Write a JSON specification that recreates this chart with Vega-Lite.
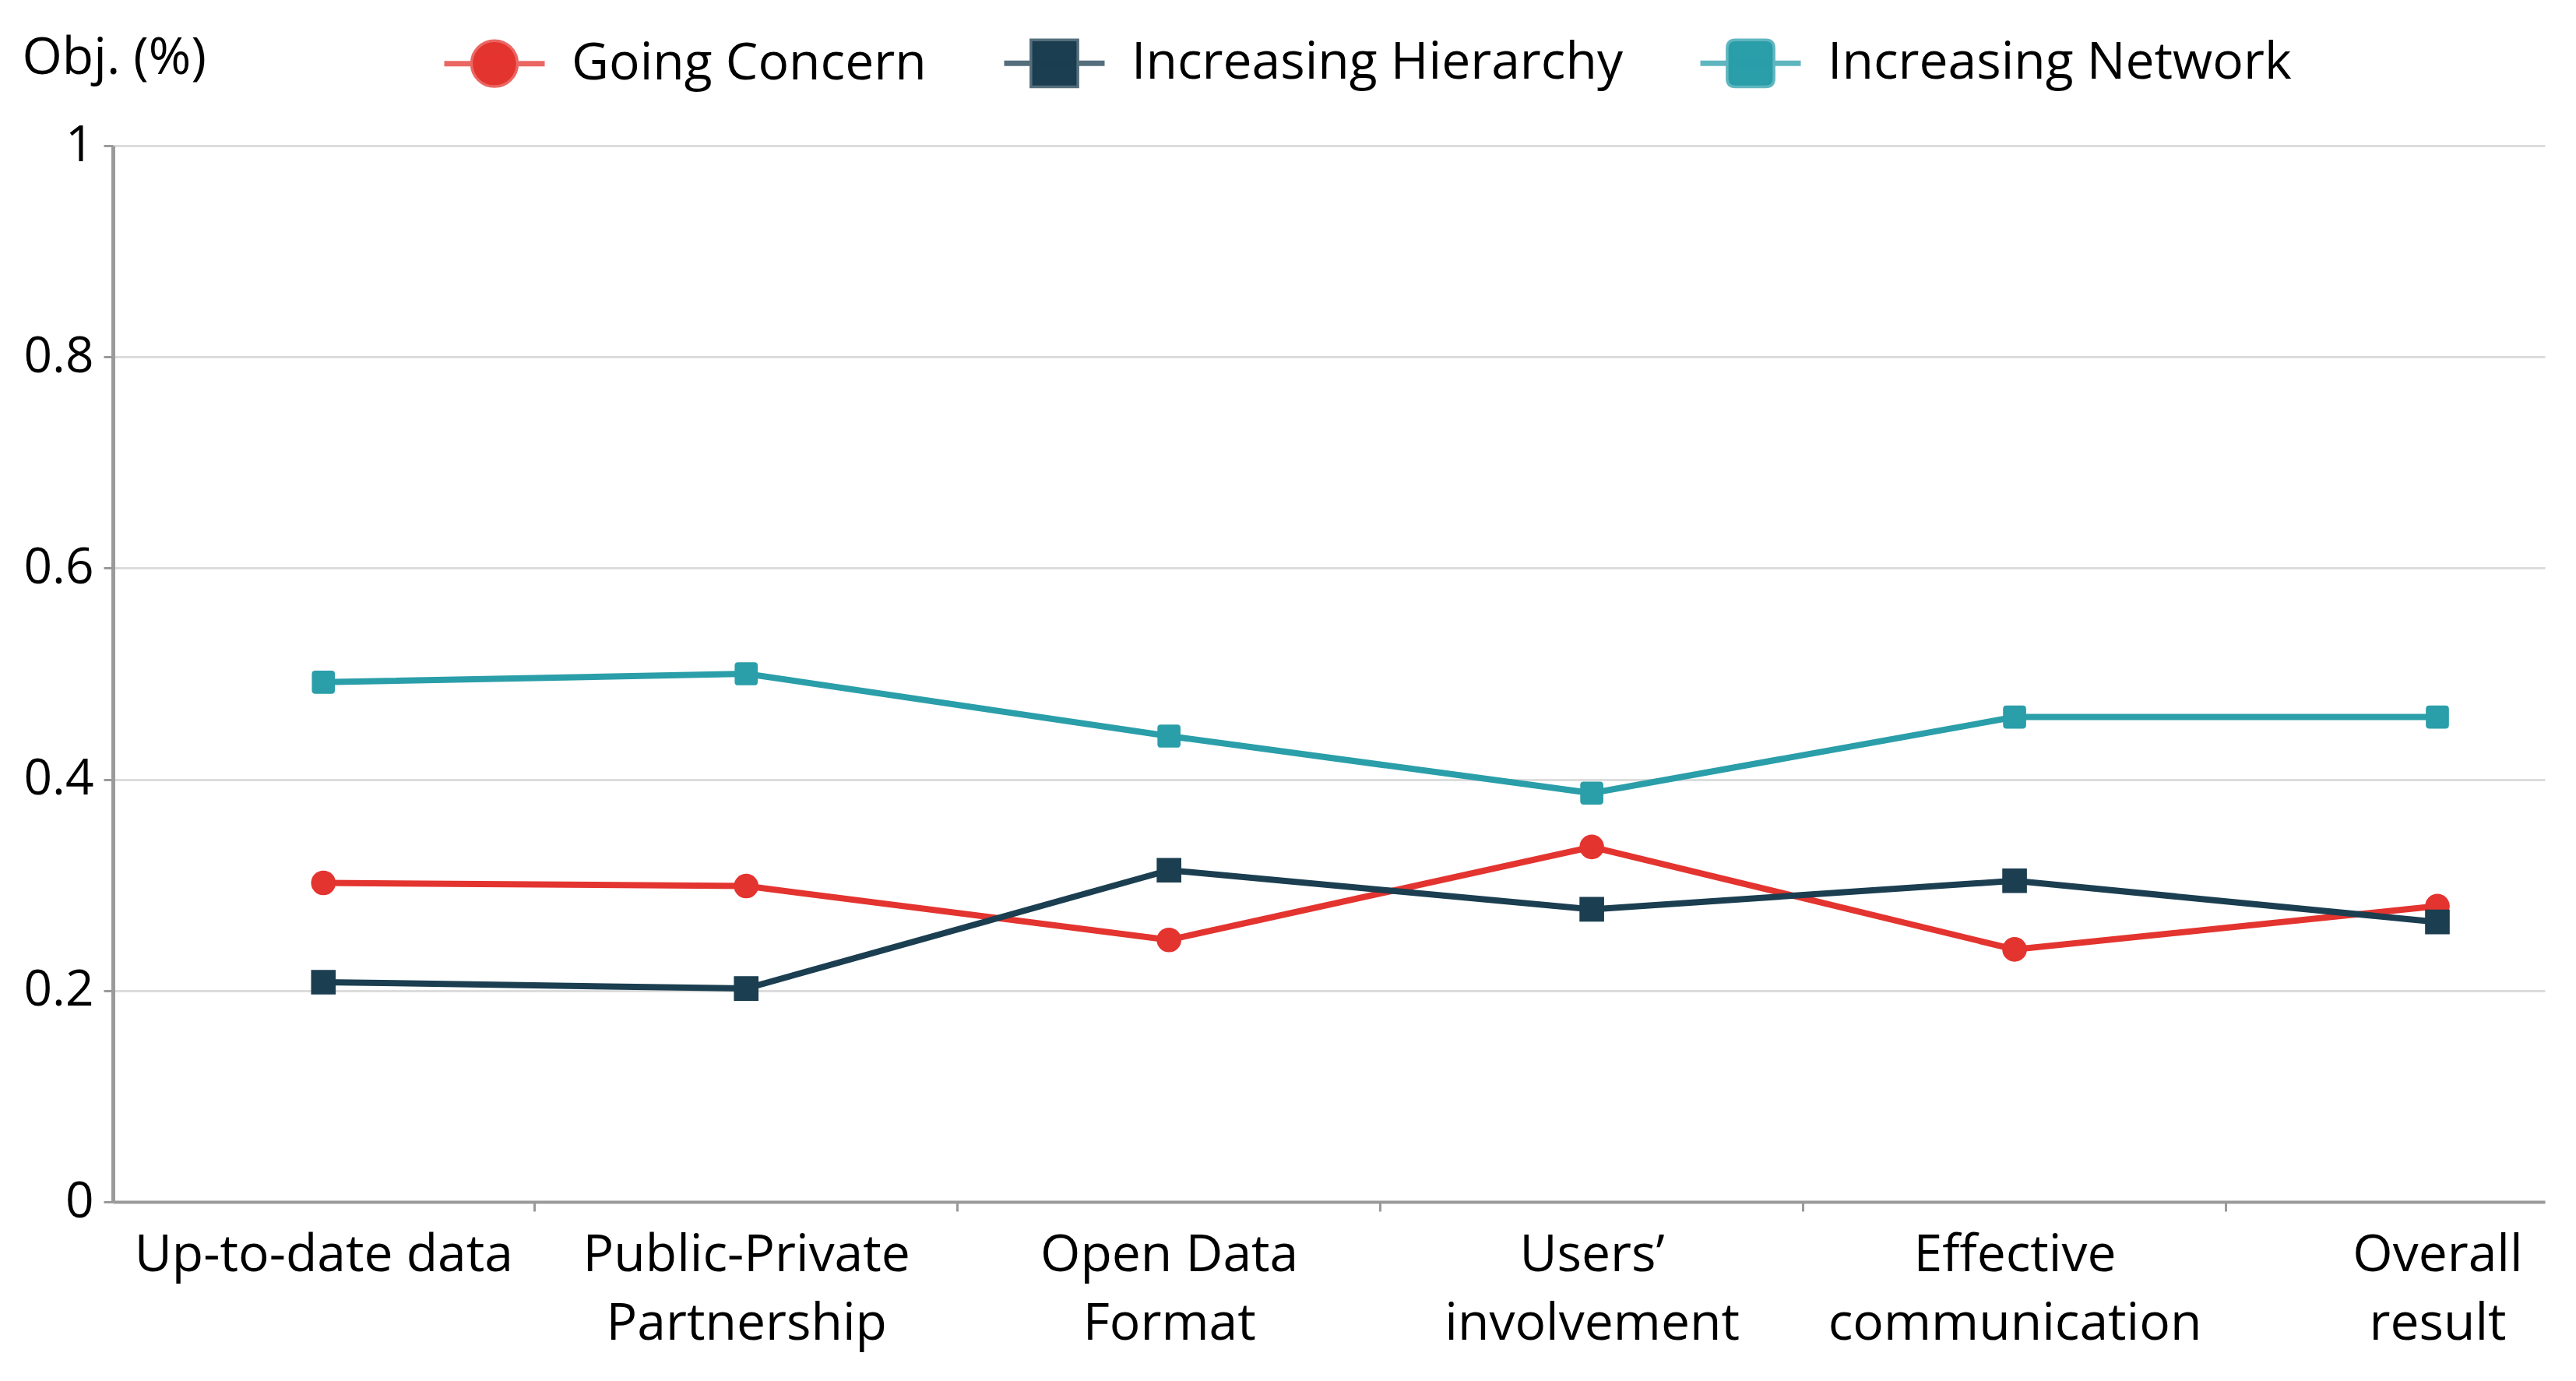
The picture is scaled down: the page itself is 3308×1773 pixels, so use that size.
{
  "$schema": "https://vega.github.io/schema/vega-lite/v6.json",
  "width": 3123,
  "height": 1356,
  "autosize": {"type": "none"},
  "padding": {"left": 145, "top": 187, "right": 40, "bottom": 230},
  "background": "white",
  "config": {
    "view": {"stroke": null},
    "font": "Open Sans",
    "axis": {"labelFont": "Open Sans", "titleFont": "Open Sans", "labelColor": "#000000", "titleColor": "#000000", "labelLimit": 0},
    "legend": {
      "title": null,
      "orient": "none",
      "legendX": 422,
      "legendY": -174,
      "direction": "horizontal",
      "padding": 0,
      "labelFont": "Open Sans",
      "labelFontSize": 66,
      "labelColor": "#000000",
      "labelLimit": 0,
      "labelOffset": 31,
      "columnPadding": 85,
      "symbolSize": 16641,
      "symbolStrokeWidth": 7,
      "symbolOpacity": 1
    }
  },
  "data": {
    "values": [
      {"category": "Up-to-date data", "series": "Going Concern", "value": 0.302},
      {"category": "Public-Private Partnership", "series": "Going Concern", "value": 0.299},
      {"category": "Open Data Format", "series": "Going Concern", "value": 0.248},
      {"category": "Users’ involvement", "series": "Going Concern", "value": 0.336},
      {"category": "Effective communication", "series": "Going Concern", "value": 0.239},
      {"category": "Overall result", "series": "Going Concern", "value": 0.280},
      {"category": "Up-to-date data", "series": "Increasing Hierarchy", "value": 0.208},
      {"category": "Public-Private Partnership", "series": "Increasing Hierarchy", "value": 0.202},
      {"category": "Open Data Format", "series": "Increasing Hierarchy", "value": 0.314},
      {"category": "Users’ involvement", "series": "Increasing Hierarchy", "value": 0.277},
      {"category": "Effective communication", "series": "Increasing Hierarchy", "value": 0.304},
      {"category": "Overall result", "series": "Increasing Hierarchy", "value": 0.265},
      {"category": "Up-to-date data", "series": "Increasing Network", "value": 0.492},
      {"category": "Public-Private Partnership", "series": "Increasing Network", "value": 0.500},
      {"category": "Open Data Format", "series": "Increasing Network", "value": 0.441},
      {"category": "Users’ involvement", "series": "Increasing Network", "value": 0.387},
      {"category": "Effective communication", "series": "Increasing Network", "value": 0.459},
      {"category": "Overall result", "series": "Increasing Network", "value": 0.459}
    ]
  },
  "encoding": {
    "x": {
      "field": "category",
      "type": "nominal",
      "sort": null,
      "scale": {"type": "point", "padding": 0.376, "align": 0.662},
      "axis": {
        "title": null,
        "labelAngle": 0,
        "labelFontSize": 66,
        "labelBaseline": "top",
        "labelLineHeight": 88,
        "labelPadding": 24,
        "labelExpr": "datum.value == 'Public-Private Partnership' ? ['Public-Private', 'Partnership'] : datum.value == 'Open Data Format' ? ['Open Data', 'Format'] : datum.value == 'Users’ involvement' ? ['Users’', 'involvement'] : datum.value == 'Effective communication' ? ['Effective', 'communication'] : datum.value == 'Overall result' ? ['Overall', 'result'] : datum.value",
        "domainColor": "#9a9a9a",
        "domainWidth": 4,
        "tickColor": "#9a9a9a",
        "tickWidth": 3,
        "tickSize": 12,
        "tickOffset": 271,
        "labelOffset": -271,
        "grid": false
      }
    },
    "y": {
      "field": "value",
      "type": "quantitative",
      "scale": {"domain": [0, 1]},
      "axis": {
        "values": [0, 0.2, 0.4, 0.6, 0.8, 1],
        "format": "~g",
        "title": "Obj. (%)",
        "titleAngle": 0,
        "titleAlign": "left",
        "titleBaseline": "middle",
        "titleX": -117,
        "titleY": -113,
        "titleFontSize": 66,
        "titleFontWeight": "normal",
        "labelFontSize": 64,
        "labelPadding": 13,
        "domainColor": "#9a9a9a",
        "domainWidth": 5,
        "tickColor": "#9a9a9a",
        "tickWidth": 3,
        "tickSize": 12,
        "grid": true,
        "gridColor": "#dcdcdc",
        "gridWidth": 3
      }
    }
  },
  "layer": [
    {
      "mark": {"type": "line", "strokeWidth": 8},
      "encoding": {
        "color": {
          "field": "series",
          "type": "nominal",
          "scale": {"domain": ["Going Concern", "Increasing Hierarchy", "Increasing Network"], "range": ["#e3342f", "#1b3e50", "#2a9ea9"]},
          "legend": {
            "encode": {
              "symbols": {
                "update": {
                  "fill": {"scale": "color", "field": "value"},
                  "stroke": {"scale": "color", "field": "value"},
                  "strokeOpacity": {"value": 0.75}
                }
              }
            }
          }
        }
      }
    },
    {
      "transform": [{"filter": "datum.series == 'Going Concern'"}],
      "mark": {"type": "point", "filled": true, "opacity": 1, "shape": "circle", "size": 1000},
      "encoding": {"color": {"field": "series", "type": "nominal"}}
    },
    {
      "transform": [{"filter": "datum.series == 'Increasing Hierarchy'"}],
      "mark": {"type": "point", "filled": true, "opacity": 1, "shape": "square", "size": 1000},
      "encoding": {"color": {"field": "series", "type": "nominal"}}
    },
    {
      "transform": [{"filter": "datum.series == 'Increasing Network'"}],
      "mark": {"type": "point", "filled": true, "opacity": 1, "shape": "M-0.7,-1H0.7Q1,-1,1,-0.7V0.7Q1,1,0.7,1H-0.7Q-1,1,-1,0.7V-0.7Q-1,-1,-0.7,-1Z", "size": 880},
      "encoding": {"color": {"field": "series", "type": "nominal"}}
    },
    {
      "transform": [{"filter": "false"}],
      "mark": {"type": "point", "filled": true, "opacity": 1},
      "encoding": {
        "color": {"field": "series", "type": "nominal"},
        "shape": {
          "field": "series",
          "type": "nominal",
          "scale": {"domain": ["Going Concern", "Increasing Hierarchy", "Increasing Network"], "range": [
            "M-1,0H1M0.43,0A0.43,0.43,0,1,1,-0.43,0A0.43,0.43,0,1,1,0.43,0Z",
            "M-1,0H1M-0.44,-0.44H0.44V0.44H-0.44Z",
            "M-1,0H1M-0.3,-0.44H0.3Q0.44,-0.44,0.44,-0.3V0.3Q0.44,0.44,0.3,0.44H-0.3Q-0.44,0.44,-0.44,0.3V-0.3Q-0.44,-0.44,-0.3,-0.44Z"
          ]}
        }
      }
    }
  ]
}
